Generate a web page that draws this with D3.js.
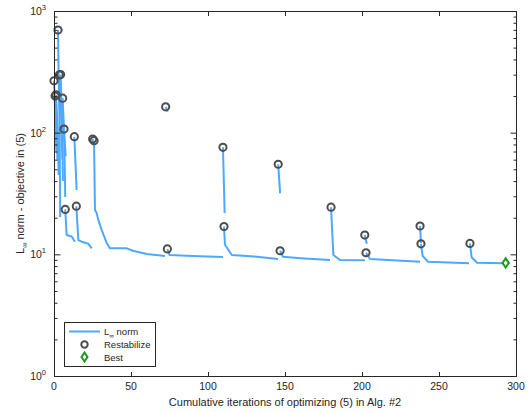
<!DOCTYPE html>
<html>
<head>
<meta charset="utf-8">
<script src="https://cdn.jsdelivr.net/npm/d3@7"></script>
<style>
  body { margin: 0; background: #fff; }
  text { font-family: "Liberation Sans", Arial, sans-serif; fill: #262626; }
</style>
</head>
<body>
<svg id="chart"></svg>
<script>
// chart values
var xTicks = [0, 50, 100, 150, 200, 250, 300],
	yTicks = [1, 10, 100, 1000];

// each run of the optimizer: [cumulative iteration, L-inf norm]
var runs = [
	[[0, 267], [1.0, 120], [1.5, 70]],
	[[0.7, 200], [1.8, 110], [2.2, 60]],
	[[1.3, 205], [2.5, 100], [3.0, 45]],
	[[2.6, 698], [3.0, 300], [3.6, 120], [3.9, 40], [4.0, 20.3]],
	[[3.4, 298], [4.5, 150], [5.5, 60]],
	[[4.3, 300], [5.3, 120], [5.8, 40]],
	[[5.6, 192], [6.6, 100], [7.6, 64]],
	[[6.5, 107], [7.0, 50], [7.3, 29.6]],
	[[7.3, 23.4], [8.2, 14.4], [11.5, 14.0], [13.6, 12.7]],
	[[13.2, 92.7], [14.7, 33.8]],
	[[14.5, 24.9], [15.8, 13.1], [18, 12.7], [22.3, 12.2], [24.5, 11.2]],
	[[25.1, 88.7], [25.6, 80]],
	[[26, 85.9], [26.6, 23.1], [27.7, 21.9], [28.8, 19.1], [31, 15.8], [34.2, 12.4],
		[36.4, 11.2], [47.2, 11.2], [51.3, 10.7], [60.2, 10.07], [72.1, 9.69]],
	[[72.5, 163], [73.8, 148.6]],
	[[73.6, 11.07], [75, 9.87], [90, 9.69], [109.7, 9.51]],
	[[109.7, 75.8], [110.6, 28], [110.8, 21.9]],
	[[110.4, 16.9], [111, 12], [113.2, 10.9], [115.4, 9.87], [130, 9.6], [145.5, 9.16]],
	[[145.6, 55], [146.8, 31.7]],
	[[146.8, 10.7], [148.7, 9.55], [160, 9.3], [179.2, 8.98]],
	[[179.9, 24.4], [181.4, 9.87], [185.7, 8.98], [201.9, 8.94]],
	[[201.8, 14.4], [203.1, 12.2]],
	[[202.6, 10.3], [205.2, 9.16], [237.7, 8.7]],
	[[237.7, 17.1], [238.3, 12.4]],
	[[238.3, 12.2], [239.4, 9.69], [242.9, 8.7], [269.5, 8.44]],
	[[270.1, 12.3], [271.2, 9.46], [274.7, 8.53], [291.6, 8.44]]
];

var restabIters = [0, 0.7, 1.3, 2.6, 3.4, 4.3, 5.6, 6.5, 7.3, 13.2, 14.5, 25.1, 26,
	72.5, 73.6, 109.7, 110.4, 145.6, 146.8, 179.9, 201.8, 202.6, 237.7, 238.3, 270.1];
var restabValues = [267, 200, 205, 698, 298, 300, 192, 107, 23.4, 92.7, 24.9, 88.7, 85.9,
	163, 11.07, 75.8, 16.9, 55, 10.7, 24.4, 14.4, 10.3, 17.1, 12.2, 12.3];

var bestIter = [293.3],
	bestValue = [8.5];

// layout
var width = 528,
	height = 412,
	plotLeft = 54, plotRight = 516, plotTop = 11, plotBottom = 376,
	lineColor = '#4da9ff',
	axisColor = '#262626';

var svg = d3.select('#chart')
	.attr('width', width)
	.attr('height', height);

var x = d3.scaleLinear().domain([0, 300]).range([plotLeft, plotRight]);
var y = d3.scaleLog().domain([1, 1000]).range([plotBottom, plotTop]);

// minor log ticks
var minor = [];
[1, 10, 100].forEach(function(d) {
	for (var k = 2; k < 10; k++) minor.push(d * k);
});

var line = d3.line()
	.x(function(d) { return x(d[0]); })
	.y(function(d) { return y(d[1]); });

svg.append('g').selectAll('path')
	.data(runs)
	.enter().append('path')
		.attr('d', line)
		.attr('fill', 'none')
		.attr('stroke', lineColor)
		.attr('stroke-width', 2)
		.attr('stroke-linejoin', 'round');

svg.append('g').selectAll('circle')
	.data(restabIters)
	.enter().append('circle')
		.attr('cx', function(d) { return x(d); })
		.attr('cy', function(d, i) { return y(restabValues[i]); })
		.attr('r', 3.6)
		.attr('fill', 'none')
		.attr('stroke', '#4d4d4d')
		.attr('stroke-width', 2);

var diamond = function(cx, cy, w, h) {
	return 'M' + cx + ',' + (cy - h) + 'L' + (cx + w) + ',' + cy + 'L' + cx + ',' + (cy + h) + 'L' + (cx - w) + ',' + cy + 'Z';
};

svg.append('g').selectAll('path')
	.data(bestIter)
	.enter().append('path')
		.attr('d', function(d, i) { return diamond(x(d), y(bestValue[i]), 3.2, 4.6); })
		.attr('fill', '#fff')
		.attr('stroke', '#1a9a1a')
		.attr('stroke-width', 2);

// axes box with inward ticks on all four sides
var axes = svg.append('g')
	.attr('stroke', axisColor)
	.attr('stroke-width', 1)
	.attr('fill', 'none');

axes.append('rect')
	.attr('x', plotLeft + 0.5)
	.attr('y', plotTop + 0.5)
	.attr('width', plotRight - plotLeft)
	.attr('height', plotBottom - plotTop);

axes.append('g').attr('transform', 'translate(0,' + (plotBottom + 0.5) + ')')
	.call(d3.axisBottom(x).tickValues(xTicks).tickSizeInner(-4.5).tickSizeOuter(0).tickFormat(''));
axes.append('g').attr('transform', 'translate(0,' + (plotTop + 0.5) + ')')
	.call(d3.axisTop(x).tickValues(xTicks).tickSizeInner(-4.5).tickSizeOuter(0).tickFormat(''));
axes.append('g').attr('transform', 'translate(' + (plotLeft + 0.5) + ',0)')
	.call(d3.axisLeft(y).tickValues(yTicks).tickSizeInner(-6).tickSizeOuter(0).tickFormat(''));
axes.append('g').attr('transform', 'translate(' + (plotRight + 0.5) + ',0)')
	.call(d3.axisRight(y).tickValues(yTicks).tickSizeInner(-6).tickSizeOuter(0).tickFormat(''));
axes.append('g').attr('transform', 'translate(' + (plotLeft + 0.5) + ',0)')
	.call(d3.axisLeft(y).tickValues(minor).tickSizeInner(-3).tickSizeOuter(0).tickFormat(''));
axes.append('g').attr('transform', 'translate(' + (plotRight + 0.5) + ',0)')
	.call(d3.axisRight(y).tickValues(minor).tickSizeInner(-3).tickSizeOuter(0).tickFormat(''));
axes.selectAll('.domain').remove();
axes.selectAll('line').attr('stroke', axisColor);
axes.selectAll('text').remove();

// tick labels
svg.append('g').selectAll('text')
	.data(xTicks)
	.enter().append('text')
		.attr('x', function(d) { return x(d); })
		.attr('y', plotBottom + 14)
		.attr('text-anchor', 'middle')
		.attr('font-size', 10.5)
		.text(function(d) { return d; });

var yLab = svg.append('g').selectAll('text')
	.data(yTicks)
	.enter().append('text')
		.attr('x', plotLeft - 8)
		.attr('y', function(d) { return y(d) + 4; })
		.attr('text-anchor', 'end')
		.attr('font-size', 10.5);
yLab.append('tspan').text('10');
yLab.append('tspan')
	.attr('dy', -5)
	.attr('font-size', 7.5)
	.text(function(d) { return Math.round(Math.log10(d)); });

// axis titles
svg.append('text')
	.attr('x', (plotLeft + plotRight) / 2)
	.attr('y', 406)
	.attr('text-anchor', 'middle')
	.attr('font-size', 11)
	.text('Cumulative iterations of optimizing (5) in Alg. #2');

var yTitle = svg.append('text')
	.attr('transform', 'translate(24,' + (plotTop + plotBottom) / 2 + ') rotate(-90)')
	.attr('text-anchor', 'middle')
	.attr('font-size', 11);
yTitle.append('tspan').text('L');
yTitle.append('tspan').attr('dy', 3).attr('font-size', 7.5).text('\u221e');
yTitle.append('tspan').attr('dy', -3).text(' norm - objective in (5)');

// legend
var lg = svg.append('g').attr('transform', 'translate(64,322)');
lg.append('rect')
	.attr('x', 0.5).attr('y', 0.5)
	.attr('width', 91).attr('height', 44)
	.attr('fill', '#fff')
	.attr('stroke', axisColor)
	.attr('stroke-width', 1);
lg.append('line')
	.attr('x1', 5).attr('x2', 36)
	.attr('y1', 9.5).attr('y2', 9.5)
	.attr('stroke', lineColor)
	.attr('stroke-width', 2);
lg.append('circle')
	.attr('cx', 20.5).attr('cy', 22.5).attr('r', 3.2)
	.attr('fill', 'none')
	.attr('stroke', '#4d4d4d')
	.attr('stroke-width', 2);
lg.append('path')
	.attr('d', diamond(20.5, 35, 3, 4.5))
	.attr('fill', '#fff')
	.attr('stroke', '#1a9a1a')
	.attr('stroke-width', 2);

var l1 = lg.append('text').attr('x', 40).attr('y', 12.5).attr('font-size', 9.5);
l1.append('tspan').text('L');
l1.append('tspan').attr('dy', 3).attr('font-size', 6.5).text('\u221e');
l1.append('tspan').attr('dy', -3).text(' norm');
lg.append('text').attr('x', 40).attr('y', 26).attr('font-size', 9.5).text('Restabilize');
lg.append('text').attr('x', 40).attr('y', 38.5).attr('font-size', 9.5).text('Best');
</script>
</body>
</html>
